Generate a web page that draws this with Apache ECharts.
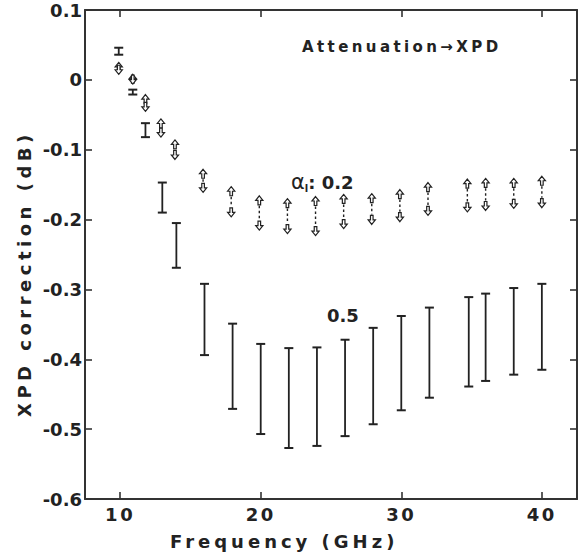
<!DOCTYPE html>
<html>
<head>
<meta charset="utf-8">
<script src="https://cdn.jsdelivr.net/npm/echarts@6/dist/echarts.min.js"></script>
<style>
  html, body { margin: 0; padding: 0; background: #ffffff; }
  #chart { width: 581px; height: 554px; }
</style>
</head>
<body>
<div id="chart"></div>
<script>
// ---- data ----
// alpha_l = 0.5 : vertical range bars  [frequency GHz, upper dB, lower dB]
const bandFreq05  = [9.9, 10.9, 11.8, 13, 14, 16, 18, 20, 22, 24, 26, 28, 30, 32, 34.8, 36, 38, 40];
const bandHigh05  = [0.046, -0.014, -0.062, -0.147, -0.205, -0.292, -0.349, -0.378, -0.384, -0.383, -0.372, -0.355, -0.338, -0.326, -0.311, -0.306, -0.298, -0.292];
const bandLow05   = [0.036, -0.021, -0.082, -0.190, -0.269, -0.394, -0.471, -0.507, -0.527, -0.524, -0.510, -0.493, -0.473, -0.455, -0.439, -0.431, -0.422, -0.415];

// alpha_l = 0.2 : arrow pairs (upper arrow tip, lower arrow tip)
const bandFreq02  = [9.9, 10.9, 11.8, 12.9, 13.9, 15.9, 17.9, 19.9, 21.9, 23.9, 25.9, 27.9, 29.9, 31.9, 34.7, 36, 38, 40];
const bandHigh02  = [0.025, 0.008, -0.021, -0.056, -0.086, -0.128, -0.153, -0.166, -0.170, -0.167, -0.164, -0.163, -0.157, -0.147, -0.142, -0.141, -0.141, -0.138];
const bandLow02   = [0.008, -0.006, -0.045, -0.082, -0.114, -0.161, -0.196, -0.215, -0.220, -0.223, -0.213, -0.207, -0.203, -0.194, -0.189, -0.187, -0.184, -0.183];

const xTickValues = [10, 20, 30, 40];
const yTickValues = [0.1, 0, -0.1, -0.2, -0.3, -0.4, -0.5, -0.6];

const xTitle = 'Frequency (GHz)';
const yTitle = 'XPD correction (dB)';
const noteText = 'Attenuation\u2192XPD';

const xMin = 7.5, xMax = 42.5, yMin = -0.6, yMax = 0.1;

// ---- build series data ----
const bars05 = bandFreq05.map((f, i) => [f, bandHigh05[i], bandLow05[i]]);
const arrows02 = bandFreq02.map((f, i) => [f, bandHigh02[i], bandLow02[i]]);

const INK = '#222222';
const FONT = '"DejaVu Sans", "Liberation Sans", sans-serif';

function renderBar(params, api) {
  const x = api.value(0), hi = api.value(1), lo = api.value(2);
  const p1 = api.coord([x, hi]);
  const p2 = api.coord([x, lo]);
  const w = 4.5;
  return {
    type: 'group',
    children: [
      { type: 'line', shape: { x1: p1[0], y1: p1[1], x2: p2[0], y2: p2[1] }, style: { stroke: INK, lineWidth: 1.8 } },
      { type: 'line', shape: { x1: p1[0] - w, y1: p1[1], x2: p1[0] + w, y2: p1[1] }, style: { stroke: INK, lineWidth: 2 } },
      { type: 'line', shape: { x1: p2[0] - w, y1: p2[1], x2: p2[0] + w, y2: p2[1] }, style: { stroke: INK, lineWidth: 2 } }
    ]
  };
}

function renderArrows(params, api) {
  const x = api.value(0), hi = api.value(1), lo = api.value(2);
  const a = api.coord([x, hi]);
  const b = api.coord([x, lo]);
  const H = 9, th = 4.5, hw = 3.6, sw = 1.3;
  const up = [
    [a[0], a[1]], [a[0] + hw, a[1] + th], [a[0] + sw, a[1] + th], [a[0] + sw, a[1] + H],
    [a[0] - sw, a[1] + H], [a[0] - sw, a[1] + th], [a[0] - hw, a[1] + th]
  ];
  const dn = [
    [b[0], b[1]], [b[0] + hw, b[1] - th], [b[0] + sw, b[1] - th], [b[0] + sw, b[1] - H],
    [b[0] - sw, b[1] - H], [b[0] - sw, b[1] - th], [b[0] - hw, b[1] - th]
  ];
  const children = [];
  const gapTop = a[1] + H, gapBot = b[1] - H;
  if (gapBot - gapTop > 3) {
    children.push({
      type: 'line',
      shape: { x1: a[0], y1: gapTop + 1, x2: b[0], y2: gapBot - 1 },
      style: { stroke: INK, lineWidth: 1.4, lineDash: [2.5, 2.5] }
    });
  }
  children.push({ type: 'polygon', shape: { points: up }, style: { fill: '#ffffff', stroke: INK, lineWidth: 1.2 } });
  children.push({ type: 'polygon', shape: { points: dn }, style: { fill: '#ffffff', stroke: INK, lineWidth: 1.2 } });
  return { type: 'group', children };
}

const axisLineStyle = { color: '#333333', width: 2 };
const tickStyle = { color: '#333333', width: 1.6 };

const option = {
  backgroundColor: '#ffffff',
  animation: false,
  grid: { left: 85, right: 4, top: 10, bottom: 55, containLabel: false, outerBoundsMode: 'none' },
  xAxis: [
    {
      type: 'value', min: xMin, max: xMax, position: 'bottom',
      axisLine: { show: true, onZero: false, lineStyle: axisLineStyle },
      axisTick: { show: true, inside: true, length: 7, customValues: xTickValues, lineStyle: tickStyle },
      axisLabel: { show: true, customValues: xTickValues, margin: 6, fontFamily: FONT, fontSize: 18, fontWeight: 'bold', color: INK },
      splitLine: { show: false }
    },
    {
      type: 'value', min: xMin, max: xMax, position: 'top',
      axisLine: { show: true, onZero: false, lineStyle: axisLineStyle },
      axisTick: { show: true, inside: true, length: 7, customValues: xTickValues, lineStyle: tickStyle },
      axisLabel: { show: false },
      splitLine: { show: false }
    }
  ],
  yAxis: [
    {
      type: 'value', min: yMin, max: yMax, position: 'left',
      axisLine: { show: true, onZero: false, lineStyle: axisLineStyle },
      axisTick: { show: true, inside: true, length: 7, customValues: yTickValues, lineStyle: tickStyle },
      axisLabel: {
        show: true, customValues: yTickValues, margin: 3, fontFamily: FONT, fontSize: 18, fontWeight: 'bold', color: INK,
        formatter: v => (Math.abs(v) < 1e-9 ? '0' : Number(v).toFixed(1))
      },
      splitLine: { show: false }
    },
    {
      type: 'value', min: yMin, max: yMax, position: 'right',
      axisLine: { show: true, onZero: false, lineStyle: axisLineStyle },
      axisTick: { show: true, inside: true, length: 7, customValues: yTickValues, lineStyle: tickStyle },
      axisLabel: { show: false },
      splitLine: { show: false }
    }
  ],
  graphic: [
    { type: 'text', x: 170, y: 541, style: { text: xTitle, font: 'bold 18px ' + FONT, fill: INK, textAlign: 'left', textVerticalAlign: 'middle' } },
    { type: 'text', x: 24, y: 417, rotation: Math.PI / 2, style: { text: yTitle, font: 'bold 18px ' + FONT, fill: INK, textAlign: 'left', textVerticalAlign: 'middle' } },
    { type: 'text', x: 302, y: 47, style: { text: noteText, font: 'bold 15px ' + FONT, fill: INK, textVerticalAlign: 'middle' } },
    {
      type: 'text', x: 291, y: 182,
      style: {
        text: '{a|\u03b1}{s|l}{b|: 0.2}', textVerticalAlign: 'middle',
        rich: {
          a: { fontFamily: FONT, fontSize: 21, fill: INK, lineHeight: 22 },
          s: { fontFamily: FONT, fontSize: 10, fontWeight: 'bold', fill: INK, verticalAlign: 'bottom', lineHeight: 10 },
          b: { fontFamily: FONT, fontSize: 18, fontWeight: 'bold', fill: INK }
        }
      }
    },
    { type: 'text', x: 327, y: 315, style: { text: '0.5', font: 'bold 18px ' + FONT, fill: INK, textVerticalAlign: 'middle' } }
  ],
  series: [
    {
      type: 'custom', name: '\u03b1l 0.5', xAxisIndex: 0, yAxisIndex: 0,
      data: bars05, encode: { x: 0, y: [1, 2] }, renderItem: renderBar, silent: true
    },
    {
      type: 'custom', name: '\u03b1l 0.2', xAxisIndex: 0, yAxisIndex: 0,
      data: arrows02, encode: { x: 0, y: [1, 2] }, renderItem: renderArrows, silent: true
    }
  ]
};

const chart = echarts.init(document.getElementById('chart'), null, { renderer: 'svg', width: 581, height: 554 });

const spacing = {};
spacing[yTitle] = 4.5;
spacing[xTitle] = 4;
spacing[noteText] = 3.4;
xTickValues.forEach(v => { spacing[String(v)] = 2.5; });

function applySpacing() {
  document.querySelectorAll('#chart text').forEach(t => {
    const s = t.textContent;
    if (Object.prototype.hasOwnProperty.call(spacing, s)) {
      t.style.letterSpacing = spacing[s] + 'px';
    }
  });
}
chart.on('finished', applySpacing);
chart.setOption(option);
applySpacing();
</script>
</body>
</html>
